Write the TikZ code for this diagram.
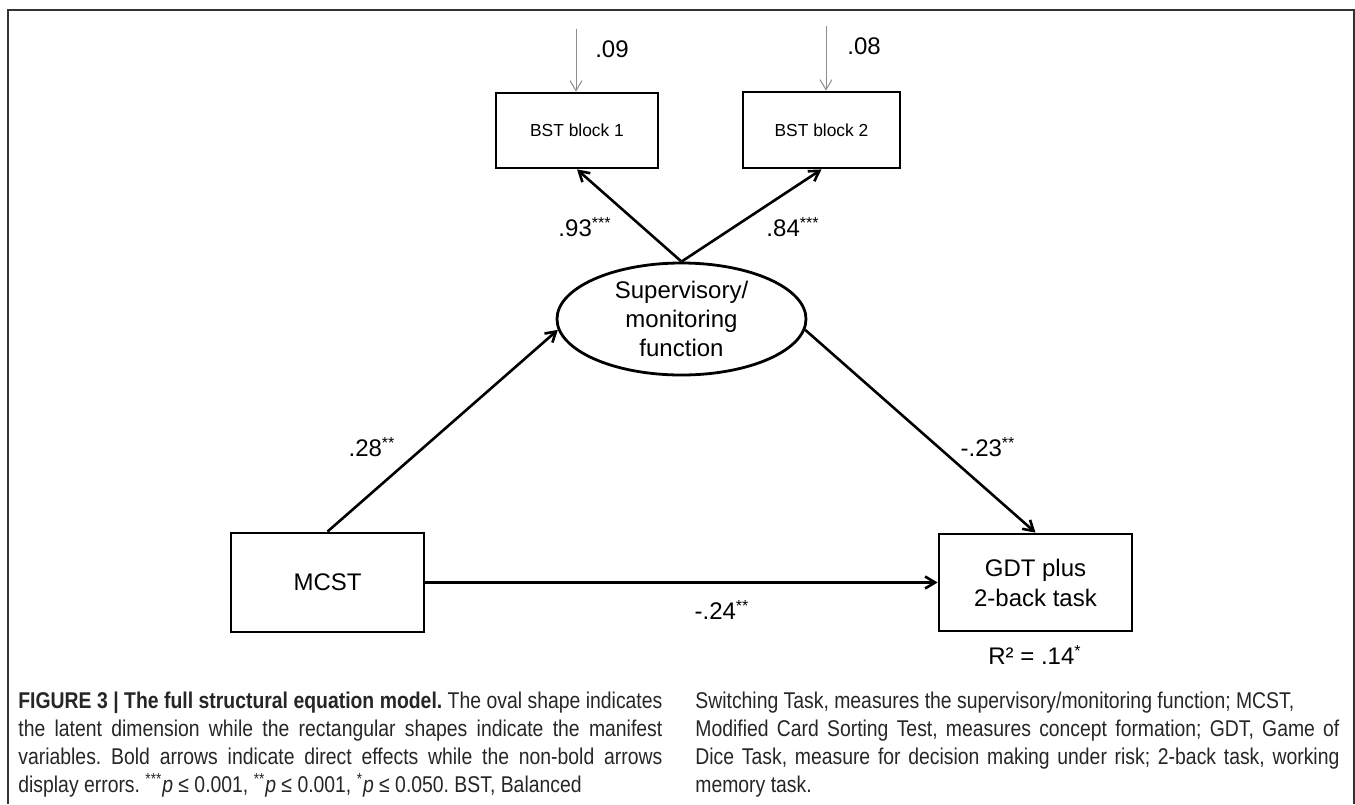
\documentclass[tikz,border=0pt]{standalone}
\usepackage{fontspec}
\setmainfont{Liberation Sans}
\newfontfamily\capfont[FakeStretch=0.85]{Liberation Sans}
\usetikzlibrary{arrows.meta,shapes.geometric}
\frenchspacing
\begin{document}
\begin{tikzpicture}[x=0.5pt,y=-0.5pt,
  box/.style={draw, line width=1.4pt, inner sep=0pt, align=center, font=\fontsize{12}{15}\selectfont},
  smallbox/.style={box, font=\fontsize{8.7}{10}\selectfont},
  latent/.style={draw, ellipse, line width=1.4pt, inner sep=0pt, align=center, font=\fontsize{12}{14.5}\selectfont},
  effect/.style={line width=1.3pt, -{Straight Barb[length=5pt,width=6pt,line width=1.3pt]}},
  err/.style={draw=black!45, line width=0.5pt, -{Straight Barb[length=5pt,width=6pt,line width=0.5pt]}},
  lab/.style={font=\fontsize{12}{14}\selectfont, inner sep=0pt},
  capstyle/.style={text width=322pt, align=justify, inner sep=0pt, text=black!85, font=\capfont\fontsize{11.4}{14}\selectfont},
  frame/.style={line width=1.2pt, draw=black!80}
]
\useasboundingbox (0,0) rectangle (1355,804);
\draw[frame] (8,804) -- (8,10) -- (1354,10) -- (1354,804);

\node[smallbox, minimum width=81pt, minimum height=37.5pt] (bst1) at (577,130.5) {BST block 1};
\node[smallbox, minimum width=78.5pt, minimum height=38pt] (bst2) at (821.5,130) {BST block 2};
\node[latent, minimum width=124.5pt, minimum height=56pt] (sup) at (681.5,319) {Supervisory/\\monitoring\\function};
\node[box, minimum width=96.5pt, minimum height=49.5pt] (mcst) at (327.5,582.5) {MCST};
\node[box, minimum width=96.5pt, minimum height=48.5pt] (gdt) at (1035.5,582.5) {GDT plus\\2-back task};

\coordinate (e1) at (576,29);
\coordinate (e2) at (826,26);
\draw[err] (e1) -- (e1 |- bst1.north);
\draw[err] (e2) -- (e2 |- bst2.north);

\draw[effect] (sup.north) -- (bst1.south);
\draw[effect] (sup.north) -- (bst2.south);
\draw[effect] (mcst.north) -- (sup.185);
\draw[effect] (sup.355) -- (gdt.north);
\draw[effect] (mcst.east) -- (gdt.west);

\node[lab] (l09) at (612,49) {.09};
\node[lab] (l08) at (864,46) {.08};
\node[lab] (l93) at (585,227) {.93\textsuperscript{***}};
\node[lab] (l84) at (793,227) {.84\textsuperscript{***}};
\node[lab] (l28) at (372,447) {.28\textsuperscript{**}};
\node[lab] (l23) at (988,447) {-.23\textsuperscript{**}};
\node[lab] (l24) at (722,610) {-.24\textsuperscript{**}};
\node[lab] (r2) at (1035,655) {R² = .14\textsuperscript{*}};

\node[capstyle, anchor=north west] (capL) at (18,692) {\textbf{FIGURE 3 | The full structural equation model.} The oval shape indicates\linebreak the latent dimension while the rectangular shapes indicate the manifest\linebreak variables. Bold arrows indicate direct effects while the non-bold arrows\linebreak display errors. \textsuperscript{***}\textit{p} ≤ 0.001, \textsuperscript{**}\textit{p} ≤ 0.001, \textsuperscript{*}\textit{p} ≤ 0.050. BST, Balanced\par};
\node[capstyle, anchor=north west] (capR) at (695,692) {Switching Task, measures the supervisory/monitoring function; MCST,\newline Modified Card Sorting Test, measures concept formation; GDT, Game of\linebreak Dice Task, measure for decision making under risk; 2-back task, working\linebreak memory task.\par};
\end{tikzpicture}
\end{document}
